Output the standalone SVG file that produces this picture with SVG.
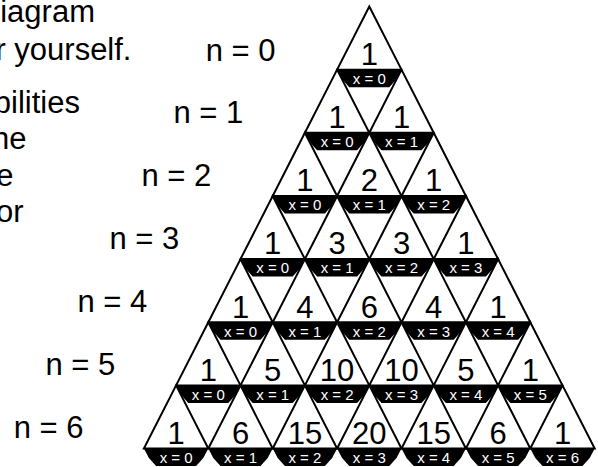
<svg xmlns="http://www.w3.org/2000/svg" xmlns:xlink="http://www.w3.org/1999/xlink" width="598" height="467" viewBox="0 0 598 467">
<style>
.t{font-family:"Liberation Sans",Arial,sans-serif;font-size:31px;fill:#000}
.n{font-family:"Liberation Sans",Arial,sans-serif;font-size:31px;fill:#000}
.num{font-family:"Liberation Sans",Arial,sans-serif;font-size:31px;fill:#000;text-anchor:middle}
.lab{font-family:"Liberation Sans",Arial,sans-serif;font-size:15px;fill:#fff;text-anchor:middle}
.tri{fill:none;stroke:#000;stroke-width:2;stroke-linejoin:miter}
.band{fill:#000}
</style>
<defs>
<path id="tri" class="tri" d="M0,0 L32.2,63.15 L-32.2,63.15 Z"/>
<polygon id="band" class="band" points="-32.2,63.15 32.2,63.15 27.2,72.65 20,80.65 -20,80.65 -27.2,72.65"/>
</defs>
<rect width="598" height="467" fill="#fff"/>
<g id="paragraph">
<text class="t" x="95" y="21.5" text-anchor="end">iagram</text>
<text class="t" x="131.5" y="60" text-anchor="end">r yourself.</text>
<text class="t" x="80" y="112.5" text-anchor="end">bilities</text>
<text class="t" x="26.5" y="149" text-anchor="end">he</text>
<text class="t" x="13.5" y="185.5" text-anchor="end">e</text>
<text class="t" x="23.5" y="222" text-anchor="end">or</text>
</g>
<g id="row-labels">
<text class="n" x="205.7" y="60.5">n = 0</text>
<text class="n" x="173.5" y="123">n = 1</text>
<text class="n" x="141.5" y="186">n = 2</text>
<text class="n" x="109.5" y="249">n = 3</text>
<text class="n" x="77.5" y="312">n = 4</text>
<text class="n" x="45.5" y="375">n = 5</text>
<text class="n" x="13.7" y="438">n = 6</text>
</g>
<g id="connectors"/>
<g id="r0k0" transform="translate(369.3,6.5)"><use xlink:href="#tri"/><use xlink:href="#band"/><text class="num" y="58.5">1</text><text class="lab" y="77.5">x = 0</text></g>
<g id="r1k0" transform="translate(337.1,69.65)"><use xlink:href="#tri"/><use xlink:href="#band"/><text class="num" y="58.5">1</text><text class="lab" y="77.5">x = 0</text></g>
<g id="r1k1" transform="translate(401.5,69.65)"><use xlink:href="#tri"/><use xlink:href="#band"/><text class="num" y="58.5">1</text><text class="lab" y="77.5">x = 1</text></g>
<g id="r2k0" transform="translate(304.9,132.8)"><use xlink:href="#tri"/><use xlink:href="#band"/><text class="num" y="58.5">1</text><text class="lab" y="77.5">x = 0</text></g>
<g id="r2k1" transform="translate(369.3,132.8)"><use xlink:href="#tri"/><use xlink:href="#band"/><text class="num" y="58.5">2</text><text class="lab" y="77.5">x = 1</text></g>
<g id="r2k2" transform="translate(433.7,132.8)"><use xlink:href="#tri"/><use xlink:href="#band"/><text class="num" y="58.5">1</text><text class="lab" y="77.5">x = 2</text></g>
<g id="r3k0" transform="translate(272.7,195.95)"><use xlink:href="#tri"/><use xlink:href="#band"/><text class="num" y="58.5">1</text><text class="lab" y="77.5">x = 0</text></g>
<g id="r3k1" transform="translate(337.1,195.95)"><use xlink:href="#tri"/><use xlink:href="#band"/><text class="num" y="58.5">3</text><text class="lab" y="77.5">x = 1</text></g>
<g id="r3k2" transform="translate(401.5,195.95)"><use xlink:href="#tri"/><use xlink:href="#band"/><text class="num" y="58.5">3</text><text class="lab" y="77.5">x = 2</text></g>
<g id="r3k3" transform="translate(465.9,195.95)"><use xlink:href="#tri"/><use xlink:href="#band"/><text class="num" y="58.5">1</text><text class="lab" y="77.5">x = 3</text></g>
<g id="r4k0" transform="translate(240.5,259.1)"><use xlink:href="#tri"/><use xlink:href="#band"/><text class="num" y="58.5">1</text><text class="lab" y="77.5">x = 0</text></g>
<g id="r4k1" transform="translate(304.9,259.1)"><use xlink:href="#tri"/><use xlink:href="#band"/><text class="num" y="58.5">4</text><text class="lab" y="77.5">x = 1</text></g>
<g id="r4k2" transform="translate(369.3,259.1)"><use xlink:href="#tri"/><use xlink:href="#band"/><text class="num" y="58.5">6</text><text class="lab" y="77.5">x = 2</text></g>
<g id="r4k3" transform="translate(433.7,259.1)"><use xlink:href="#tri"/><use xlink:href="#band"/><text class="num" y="58.5">4</text><text class="lab" y="77.5">x = 3</text></g>
<g id="r4k4" transform="translate(498.1,259.1)"><use xlink:href="#tri"/><use xlink:href="#band"/><text class="num" y="58.5">1</text><text class="lab" y="77.5">x = 4</text></g>
<g id="r5k0" transform="translate(208.3,322.25)"><use xlink:href="#tri"/><use xlink:href="#band"/><text class="num" y="58.5">1</text><text class="lab" y="77.5">x = 0</text></g>
<g id="r5k1" transform="translate(272.7,322.25)"><use xlink:href="#tri"/><use xlink:href="#band"/><text class="num" y="58.5">5</text><text class="lab" y="77.5">x = 1</text></g>
<g id="r5k2" transform="translate(337.1,322.25)"><use xlink:href="#tri"/><use xlink:href="#band"/><text class="num" y="58.5">10</text><text class="lab" y="77.5">x = 2</text></g>
<g id="r5k3" transform="translate(401.5,322.25)"><use xlink:href="#tri"/><use xlink:href="#band"/><text class="num" y="58.5">10</text><text class="lab" y="77.5">x = 3</text></g>
<g id="r5k4" transform="translate(465.9,322.25)"><use xlink:href="#tri"/><use xlink:href="#band"/><text class="num" y="58.5">5</text><text class="lab" y="77.5">x = 4</text></g>
<g id="r5k5" transform="translate(530.3,322.25)"><use xlink:href="#tri"/><use xlink:href="#band"/><text class="num" y="58.5">1</text><text class="lab" y="77.5">x = 5</text></g>
<g id="r6k0" transform="translate(176.1,385.4)"><use xlink:href="#tri"/><use xlink:href="#band"/><text class="num" y="58.5">1</text><text class="lab" y="77.5">x = 0</text></g>
<g id="r6k1" transform="translate(240.5,385.4)"><use xlink:href="#tri"/><use xlink:href="#band"/><text class="num" y="58.5">6</text><text class="lab" y="77.5">x = 1</text></g>
<g id="r6k2" transform="translate(304.9,385.4)"><use xlink:href="#tri"/><use xlink:href="#band"/><text class="num" y="58.5">15</text><text class="lab" y="77.5">x = 2</text></g>
<g id="r6k3" transform="translate(369.3,385.4)"><use xlink:href="#tri"/><use xlink:href="#band"/><text class="num" y="58.5">20</text><text class="lab" y="77.5">x = 3</text></g>
<g id="r6k4" transform="translate(433.7,385.4)"><use xlink:href="#tri"/><use xlink:href="#band"/><text class="num" y="58.5">15</text><text class="lab" y="77.5">x = 4</text></g>
<g id="r6k5" transform="translate(498.1,385.4)"><use xlink:href="#tri"/><use xlink:href="#band"/><text class="num" y="58.5">6</text><text class="lab" y="77.5">x = 5</text></g>
<g id="r6k6" transform="translate(562.5,385.4)"><use xlink:href="#tri"/><use xlink:href="#band"/><text class="num" y="58.5">1</text><text class="lab" y="77.5">x = 6</text></g>
</svg>
